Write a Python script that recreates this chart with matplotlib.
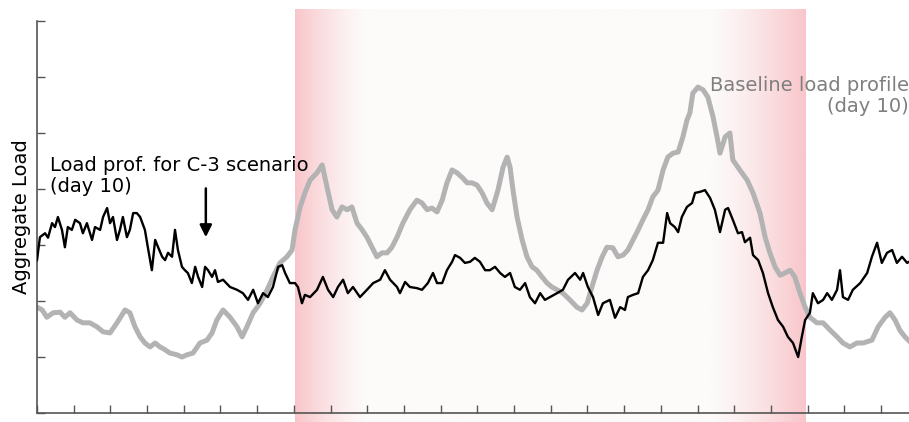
import numpy as np
import matplotlib
matplotlib.use('Agg')
import matplotlib.pyplot as plt

# hours of day / aggregate load (arbitrary units), C-3 scenario, day 10
c3_hours = [0.0, 0.08, 0.22, 0.30, 0.41, 0.49, 0.57, 0.68, 0.76, 0.84, 0.95, 1.04, 1.17, 1.25, 1.36,
            1.50, 1.58, 1.72, 1.80, 1.91, 1.99, 2.07, 2.18, 2.26, 2.34, 2.45, 2.53, 2.62, 2.72, 2.81,
            2.94, 3.02, 3.13, 3.22, 3.30, 3.41, 3.49, 3.57, 3.68, 3.76, 3.84, 3.95, 4.03, 4.11, 4.22,
            4.31, 4.39, 4.50, 4.58, 4.66, 4.77, 4.85, 4.93, 5.07, 5.26, 5.45, 5.61, 5.75, 5.89, 6.02,
            6.16, 6.29, 6.43, 6.57, 6.68, 6.76, 6.89, 7.03, 7.11, 7.22, 7.30, 7.44, 7.63, 7.79, 7.93,
            8.07, 8.20, 8.34, 8.47, 8.61, 8.80, 8.99, 9.16, 9.35, 9.48, 9.62, 9.81, 9.89, 10.03, 10.16,
            10.35, 10.49, 10.65, 10.79, 10.90, 11.04, 11.17, 11.31, 11.39, 11.53, 11.66, 11.80, 11.93,
            12.07, 12.21, 12.34, 12.48, 12.62, 12.75, 12.89, 13.02, 13.16, 13.30, 13.43, 13.57, 13.71,
            13.84, 13.98, 14.17, 14.33, 14.47, 14.66, 14.80, 14.88, 15.01, 15.15, 15.29, 15.42, 15.61,
            15.75, 15.89, 16.02, 16.10, 16.24, 16.38, 16.51, 16.65, 16.78, 16.92, 17.06, 17.17, 17.25,
            17.38, 17.47, 17.57, 17.71, 17.85, 17.93, 18.07, 18.20, 18.34, 18.47, 18.61, 18.75, 18.83,
            18.96, 19.10, 19.21, 19.29, 19.43, 19.51, 19.65, 19.78, 19.92, 20.05, 20.19, 20.33, 20.46,
            20.60, 20.74, 20.84, 20.93, 21.06, 21.14, 21.28, 21.42, 21.53, 21.66, 21.80, 21.88, 21.96,
            22.10, 22.23, 22.43, 22.62, 22.75, 22.89, 23.02, 23.16, 23.30, 23.43, 23.57, 23.71, 23.84]
c3_load = [2.73, 3.14, 3.21, 3.13, 3.39, 3.32, 3.50, 3.27, 2.96, 3.32, 3.27, 3.45, 3.39, 3.21, 3.39,
           3.09, 3.32, 3.27, 3.50, 3.66, 3.39, 3.50, 3.09, 3.27, 3.50, 3.14, 3.27, 3.57, 3.57, 3.50,
           3.27, 2.96, 2.55, 3.09, 2.96, 2.79, 2.73, 2.86, 2.79, 3.27, 2.91, 2.61, 2.55, 2.50, 2.32,
           2.61, 2.43, 2.25, 2.61, 2.55, 2.43, 2.55, 2.34, 2.38, 2.25, 2.20, 2.14, 2.02, 2.20, 1.96,
           2.14, 2.07, 2.25, 2.61, 2.64, 2.50, 2.32, 2.32, 2.25, 1.96, 2.11, 2.07, 2.20, 2.43, 2.20,
           2.07, 2.25, 2.38, 2.14, 2.25, 2.07, 2.20, 2.32, 2.38, 2.55, 2.38, 2.25, 2.14, 2.34, 2.25,
           2.23, 2.20, 2.32, 2.50, 2.32, 2.32, 2.55, 2.70, 2.82, 2.77, 2.68, 2.70, 2.77,
           2.70, 2.55, 2.55, 2.61, 2.50, 2.43, 2.50, 2.25, 2.20, 2.32, 2.07, 1.96, 2.14,
           2.02, 2.07, 2.14, 2.20, 2.38, 2.50, 2.38, 2.50, 2.25, 2.07, 1.75, 1.96, 2.02,
           1.70, 1.89, 1.84, 2.07, 2.11, 2.14, 2.43, 2.55, 2.73, 3.04, 3.04, 3.57, 3.39,
           3.32, 3.23, 3.50, 3.68, 3.75, 3.93, 3.95, 3.98, 3.84, 3.63, 3.23, 3.63, 3.66,
           3.45, 3.21, 3.23, 3.05, 3.13, 2.82, 2.73, 2.50, 2.14, 1.89, 1.66, 1.54, 1.36,
           1.25, 1.00, 1.36, 1.66, 1.79, 2.14, 1.96, 2.02, 2.14, 2.02, 2.20, 2.55, 2.07,
           2.02, 2.20, 2.32, 2.50, 2.79, 3.04, 2.68, 2.86, 2.91, 2.68, 2.79, 2.68, 2.73]

# baseline load profile, day 10
base_hours = [0.0, 0.14, 0.27, 0.44, 0.63, 0.76, 0.90, 1.09, 1.25, 1.44, 1.63, 1.80, 1.99, 2.18, 2.40,
              2.53, 2.67, 2.81, 2.94, 3.08, 3.22, 3.35, 3.49, 3.62, 3.81, 3.95, 4.09, 4.25, 4.44, 4.63,
              4.77, 4.90, 5.07, 5.26, 5.45, 5.59, 5.72, 5.89, 6.08, 6.27, 6.43, 6.62, 6.81, 6.95, 7.03,
              7.17, 7.30, 7.44, 7.63, 7.77, 7.90, 8.04, 8.17, 8.31, 8.45, 8.58, 8.72, 8.86, 8.99, 9.13,
              9.26, 9.40, 9.54, 9.67, 9.81, 9.97, 10.16, 10.35, 10.49, 10.63, 10.76, 10.90, 11.04, 11.17,
              11.31, 11.44, 11.58, 11.72, 11.85, 11.99, 12.13, 12.26, 12.40, 12.48, 12.56, 12.70, 12.81,
              12.89, 12.97, 13.08, 13.22, 13.35, 13.49, 13.62, 13.76, 13.90, 14.03, 14.17, 14.33, 14.52,
              14.71, 14.85, 14.99, 15.12, 15.26, 15.40, 15.53, 15.69, 15.83, 15.97, 16.10, 16.24, 16.38,
              16.51, 16.65, 16.78, 16.92, 17.06, 17.19, 17.33, 17.47, 17.60, 17.71, 17.79, 17.87, 18.01,
              18.15, 18.28, 18.42, 18.53, 18.61, 18.75, 18.88, 18.96, 19.15, 19.35, 19.51, 19.70, 19.84,
              19.97, 20.11, 20.25, 20.38, 20.52, 20.65, 20.79, 20.93, 21.06, 21.25, 21.42, 21.61, 21.80,
              21.96, 22.15, 22.34, 22.51, 22.75, 22.92, 23.11, 23.24, 23.38, 23.51, 23.65, 23.79]
base_load = [1.89, 1.84, 1.71, 1.79, 1.80, 1.71, 1.79, 1.66, 1.61, 1.61, 1.54, 1.45, 1.43, 1.61, 1.84,
             1.79, 1.54, 1.36, 1.25, 1.18, 1.25, 1.18, 1.13, 1.07, 1.04, 1.00, 1.04, 1.07, 1.25, 1.30,
             1.43, 1.66, 1.84, 1.71, 1.54, 1.36, 1.54, 1.79, 1.96, 2.20, 2.43, 2.68, 2.79, 2.91, 3.27,
             3.68, 3.93, 4.16, 4.29, 4.43, 4.04, 3.63, 3.50, 3.68, 3.63, 3.68, 3.39, 3.27, 3.14, 2.96,
             2.79, 2.86, 2.86, 2.96, 3.14, 3.39, 3.63, 3.80, 3.75, 3.63, 3.66, 3.59, 3.80, 4.11,
             4.34, 4.29, 4.21, 4.11, 4.11, 4.07, 3.93, 3.75, 3.63, 3.80, 3.98, 4.39, 4.57,
             4.39, 3.98, 3.50, 3.09, 2.79, 2.61, 2.55, 2.43, 2.32, 2.25, 2.20, 2.14, 2.02,
             1.89, 1.84, 1.96, 2.25, 2.55, 2.79, 2.96, 2.95, 2.79, 2.82, 2.91, 3.09, 3.27,
             3.45, 3.63, 3.86, 3.98, 4.34, 4.57, 4.64, 4.66, 4.93, 5.23, 5.36, 5.71, 5.82,
             5.77, 5.64, 5.29, 4.93, 4.64, 4.93, 5.00, 4.52, 4.34, 4.16, 3.93, 3.57, 3.14,
             2.86, 2.61, 2.46, 2.50, 2.55, 2.43, 2.14, 1.89, 1.71, 1.61, 1.61, 1.48, 1.36,
             1.25, 1.18, 1.25, 1.25, 1.30, 1.54, 1.71, 1.79, 1.66, 1.48, 1.36, 1.27]

event_start, event_end = 7.03, 20.93

fig = plt.figure(figsize=(9.09, 4.22), dpi=100)
ax = fig.add_axes([37/909, 1-413/422, (917.8-37)/909, (413-21)/422])
ax.set_xlim(0, 24)
ax.set_ylim(0, 7)

# red gradient band over the event window (strong at edges, pale inside)
xs = np.linspace(event_start, event_end, 400)
left = np.clip(1 - (xs - event_start)/1.9, 0, 1)**1.3
right = np.clip(1 - (event_end - xs)/2.6, 0, 1)**1.3
w = np.maximum(left, right)
edge = np.array([248, 198, 202])/255.
mid = np.array([253, 250, 250])/255.
rgb = mid[None, :]*(1-w[:, None]) + edge[None, :]*w[:, None]
ax.imshow(rgb[None, :, :], extent=[event_start, event_end, -0.5, 7.2], aspect='auto',
          zorder=0, clip_on=False, interpolation='bilinear')

ax.plot(base_hours, base_load, color='#b3b3b3', lw=3.6, zorder=2, solid_joinstyle='round')
ax.plot(c3_hours, c3_load, color='black', lw=1.7, zorder=3)

for s in ['top', 'right']:
    ax.spines[s].set_visible(False)
for s in ['left', 'bottom']:
    ax.spines[s].set_color('#555555')
    ax.spines[s].set_linewidth(1.2)
ax.set_xticks(np.arange(0, 25, 1))
ax.set_yticks(np.arange(0, 8, 1))
ax.tick_params(direction='in', length=6, width=1, color='#555555',
               labelbottom=False, labelleft=False)
ax.set_ylabel('Aggregate Load', fontsize=14, labelpad=4)

ax.text(0.35, (413-156)/56, 'Load prof. for C-3 scenario\n(day 10)', fontsize=14, color='black',
        ha='left', va='top', linespacing=1.15)
ax.annotate('', xy=(4.6, 3.09), xytext=(4.6, 4.06),
            arrowprops=dict(arrowstyle='-|>', color='black', lw=1.8, mutation_scale=18))
fig.text(909/909, 1-76/422, 'Baseline load profile\n(day 10)', fontsize=14, color='#7f7f7f',
         ha='right', va='top', linespacing=1.1, multialignment='right')

fig.savefig('out.png', dpi=100)
